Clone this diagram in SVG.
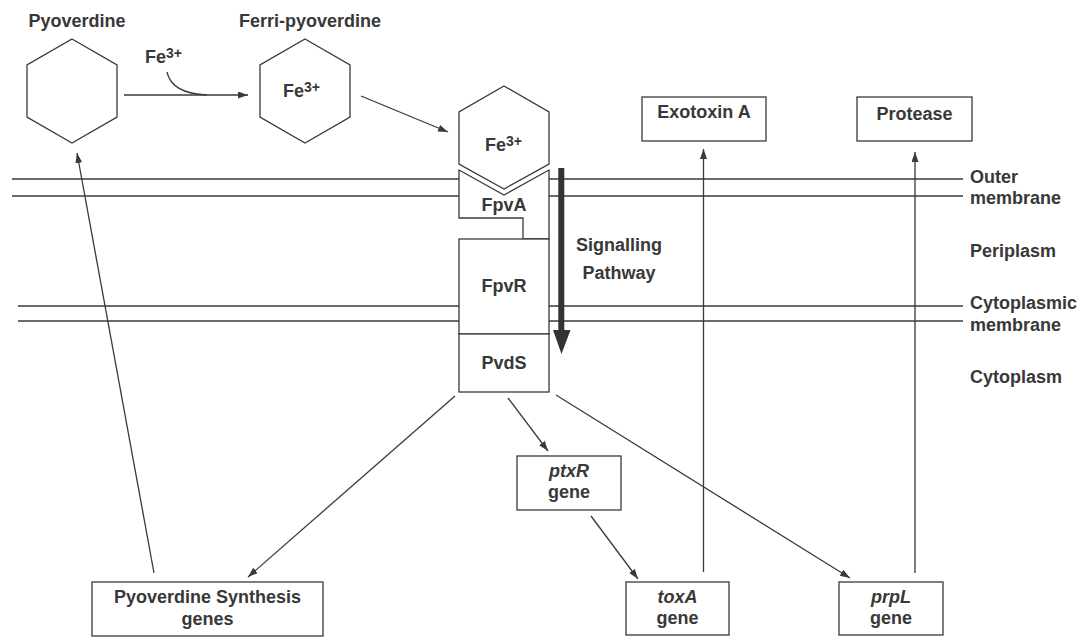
<svg xmlns="http://www.w3.org/2000/svg" width="1081" height="637" viewBox="0 0 1081 637">
<defs>
<style>
.t{font-family:"Liberation Sans",Arial,sans-serif;font-weight:bold;font-size:18px;fill:#383838}
.c{text-anchor:middle}
.sup{font-size:14px}
.s{fill:none;stroke:#3a3a3a;stroke-width:1.3}
.b{fill:#fff;stroke:#3a3a3a;stroke-width:1.3}
.m{stroke:#3a3a3a;stroke-width:1.3}
.a{fill:none;stroke:#3a3a3a;stroke-width:1.3;marker-end:url(#ah)}
</style>
<marker id="ah" markerUnits="userSpaceOnUse" markerWidth="11" markerHeight="8" refX="10" refY="3.5" orient="auto">
<path d="M0,0 L10,3.5 L0,7 z" fill="#3a3a3a"/>
</marker>
</defs>
<rect width="1081" height="637" fill="#fff"/>

<g id="membranes">
<line class="m" x1="12" y1="179" x2="459" y2="179"/>
<line class="m" x1="549" y1="179" x2="963" y2="179"/>
<line class="m" x1="12" y1="196" x2="459" y2="196"/>
<line class="m" x1="549" y1="196" x2="963" y2="196"/>
<line class="m" x1="18" y1="306" x2="459" y2="306"/>
<line class="m" x1="549" y1="306" x2="963" y2="306"/>
<line class="m" x1="18" y1="321" x2="459" y2="321"/>
<line class="m" x1="549" y1="321" x2="963" y2="321"/>
<text class="t" x="970" y="183">Outer</text>
<text class="t" x="970" y="204">membrane</text>
<text class="t" x="970" y="257">Periplasm</text>
<text class="t" x="970" y="309">Cytoplasmic</text>
<text class="t" x="970" y="331">membrane</text>
<text class="t" x="970" y="383">Cytoplasm</text>
</g>

<g id="pyoverdine">
<polygon class="b" points="72,39 117,65 117,117 72,143 27,117 27,65"/>
<text class="t c" x="77" y="27">Pyoverdine</text>
</g>

<g id="ferri-pyoverdine">
<polygon class="b" points="305,39 350,65 350,117 305,143 260,117 260,65"/>
<text class="t" x="239" y="27">Ferri-pyoverdine</text>
<text class="t" x="283" y="97">Fe<tspan class="sup" dy="-5">3+</tspan></text>
</g>

<g id="fe-label">
<text class="t" x="145" y="63">Fe<tspan class="sup" dy="-5">3+</tspan></text>
</g>

<g id="bound-fe">
<polygon class="b" points="504,86 549,112 549,164 504,189 459,164 459,112"/>
<text class="t" x="485" y="151">Fe<tspan class="sup" dy="-5">3+</tspan></text>
</g>

<g id="fpva">
<path class="b" d="M459,170 L504,195 L549,170 L549,239 L523,239 L523,218 L459,218 Z"/>
<text class="t c" x="504" y="211">FpvA</text>
</g>

<g id="fpvr">
<rect class="b" x="459" y="239" width="90" height="95"/>
<text class="t c" x="504" y="292">FpvR</text>
</g>

<g id="pvds">
<rect class="b" x="459" y="334" width="90" height="58"/>
<text class="t c" x="504" y="369">PvdS</text>
</g>

<g id="signalling">
<rect x="558.3" y="168" width="6" height="164" fill="#333"/>
<polygon points="553,330 570.5,330 561.5,354" fill="#333"/>
<text class="t c" x="619" y="251">Signalling</text>
<text class="t c" x="619" y="279">Pathway</text>
</g>

<g id="exotoxin">
<rect class="b" x="642" y="97" width="124" height="44"/>
<text class="t c" x="704" y="118">Exotoxin A</text>
</g>

<g id="protease">
<rect class="b" x="857" y="97" width="115" height="44"/>
<text class="t c" x="914.5" y="120">Protease</text>
</g>

<g id="ptxr">
<rect class="b" x="517" y="456" width="104" height="54"/>
<text class="t c" x="569" y="477"><tspan font-style="italic">ptxR</tspan></text>
<text class="t c" x="569" y="498">gene</text>
</g>

<g id="toxa">
<rect class="b" x="626" y="582" width="103" height="53"/>
<text class="t c" x="677.5" y="603"><tspan font-style="italic">toxA</tspan></text>
<text class="t c" x="677.5" y="624">gene</text>
</g>

<g id="prpl">
<rect class="b" x="839" y="582" width="104" height="53"/>
<text class="t c" x="891" y="603"><tspan font-style="italic">prpL</tspan></text>
<text class="t c" x="891" y="624">gene</text>
</g>

<g id="pvd-genes">
<rect class="b" x="92" y="582" width="231" height="54"/>
<text class="t c" x="207.5" y="603">Pyoverdine Synthesis</text>
<text class="t c" x="207.5" y="625">genes</text>
</g>

<g id="connectors">
<line class="a" x1="124" y1="95" x2="248" y2="95"/>
<path class="s" d="M167,72 C170,86 184,94 207,95"/>
<line class="a" x1="361" y1="96" x2="448" y2="132"/>
<line class="a" x1="455" y1="396" x2="248" y2="577"/>
<line class="a" x1="508" y1="398" x2="548" y2="451"/>
<line class="a" x1="556" y1="395" x2="850" y2="578"/>
<line class="a" x1="591" y1="516" x2="638" y2="579"/>
<line class="a" x1="154" y1="573" x2="77" y2="153"/>
<line class="a" x1="703.5" y1="572" x2="703.5" y2="149"/>
<line class="a" x1="915" y1="573" x2="915" y2="152"/>
</g>
</svg>
